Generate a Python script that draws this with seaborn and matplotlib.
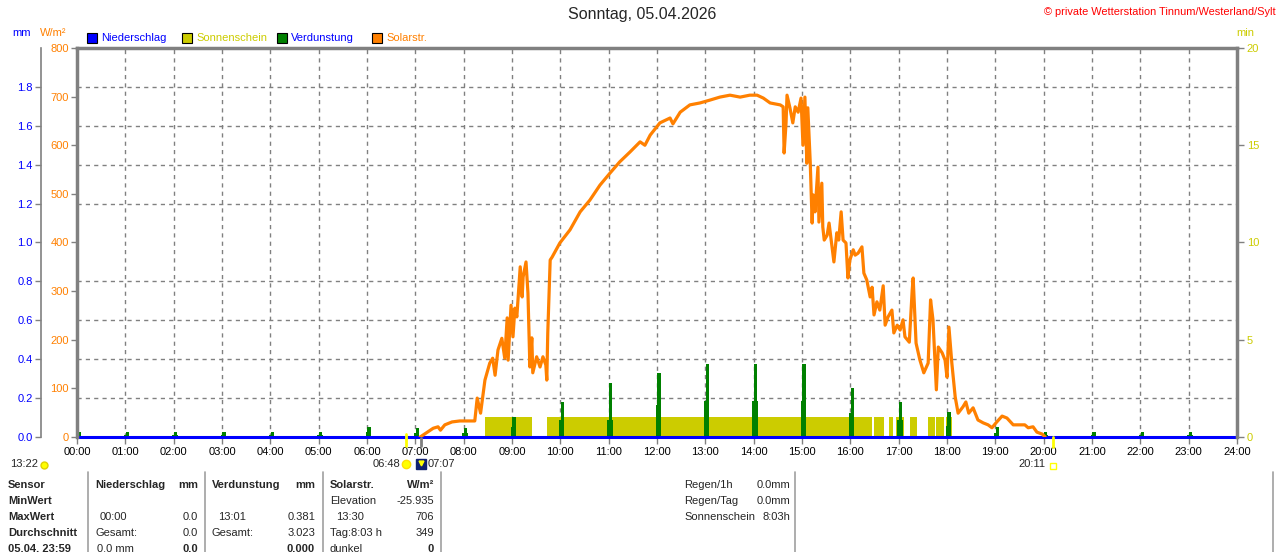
import matplotlib
matplotlib.use("Agg")
import matplotlib.pyplot as plt
import matplotlib.transforms as mtransforms
from matplotlib.patches import Rectangle
from matplotlib.lines import Line2D
from matplotlib.ticker import MultipleLocator
import seaborn as sns
import pandas as pd
import numpy as np

# --- data ------------------------------------------------------------------
title = "Sonntag, 05.04.2026"
station = "© private Wetterstation Tinnum/Westerland/Sylt"

hour_labels = [f"{h:02d}:00" for h in range(25)]

# solar radiation (W/m²) vs. time of day (hours)
solar_hour = [7.10, 7.25, 7.37, 7.47, 7.52, 7.61, 7.76, 7.92, 8.13, 8.23,
              8.28, 8.35, 8.44, 8.54, 8.60, 8.65, 8.71, 8.79, 8.85, 8.90,
              8.92, 8.98, 9.02, 9.06, 9.10, 9.17, 9.21, 9.23, 9.29, 9.33,
              9.37, 9.41, 9.43, 9.51, 9.58, 9.64, 9.70, 9.72, 9.74, 9.79,
              9.83, 9.99, 10.20, 10.41, 10.61, 10.82, 11.03, 11.23, 11.44, 11.65,
              11.75, 11.86, 12.06, 12.27, 12.33, 12.48, 12.68, 12.89, 13.10, 13.30,
              13.51, 13.72, 13.92, 14.07, 14.20, 14.34, 14.55, 14.61, 14.63, 14.67,
              14.69, 14.75, 14.81, 14.86, 14.92, 14.98, 15.02, 15.06, 15.10, 15.12,
              15.17, 15.21, 15.23, 15.27, 15.33, 15.35, 15.41, 15.43, 15.46, 15.52,
              15.56, 15.62, 15.66, 15.72, 15.76, 15.81, 15.85, 15.91, 15.95, 15.99,
              16.06, 16.10, 16.16, 16.24, 16.28, 16.34, 16.41, 16.45, 16.49, 16.55,
              16.61, 16.68, 16.72, 16.78, 16.86, 16.90, 16.97, 17.03, 17.09, 17.13,
              17.22, 17.28, 17.30, 17.36, 17.44, 17.52, 17.61, 17.66, 17.71, 17.78,
              17.82, 17.90, 17.96, 18.00, 18.04, 18.10, 18.17, 18.23, 18.33, 18.39,
              18.45, 18.54, 18.64, 18.75, 18.85, 18.93, 19.03, 19.14, 19.24, 19.37,
              19.51, 19.61, 19.68, 19.78, 19.86, 19.97, 20.03]
solar_wm2 = [0, 10, 18, 21, 14, 25, 31, 33, 33, 33,
             80, 49, 117, 152, 162, 127, 179, 203, 162, 245,
             158, 271, 206, 265, 247, 350, 288, 329, 360, 296,
             144, 204, 132, 165, 144, 165, 148, 117, 214, 364,
             370, 399, 426, 463, 487, 518, 543, 566, 586, 607,
             600, 621, 646, 656, 644, 668, 683, 687, 693, 699,
             703, 699, 703, 703, 697, 687, 683, 679, 584, 646,
             703, 677, 646, 679, 668, 697, 600, 699, 563, 677,
             566, 440, 498, 463, 555, 442, 522, 432, 405, 415,
             440, 391, 360, 420, 405, 463, 405, 399, 327, 364,
             385, 374, 378, 391, 337, 323, 288, 308, 251, 278,
             261, 311, 230, 247, 261, 214, 230, 220, 241, 206,
             195, 302, 327, 193, 158, 132, 152, 282, 241, 97,
             185, 173, 158, 123, 226, 152, 82, 49, 62, 72,
             49, 60, 35, 29, 25, 19, 31, 43, 39, 25,
             25, 25, 19, 21, 10, 6, 0]

# sunshine (min), periods with sun
sun_start = [8.44, 9.72, 16.49, 16.79, 16.95, 17.23, 17.61, 17.77, 17.98]
sun_end = [9.41, 16.45, 16.70, 16.89, 17.10, 17.37, 17.75, 17.94, 18.10]
sun_min = [1.05, 1.05, 1.05, 1.05, 1.05, 1.05, 1.05, 1.05, 1.05]

# evaporation (mm), hourly spikes: peak and lower base part
evap_hour = list(range(24))
evap_peak = [0.024, 0.024, 0.024, 0.024, 0.024, 0.024, 0.050, 0.048, 0.048, 0.101,
             0.181, 0.276, 0.327, 0.375, 0.375, 0.375, 0.253, 0.178, 0.127, 0.050,
             0.024, 0.024, 0.024, 0.024]
evap_base = [0.010, 0.010, 0.010, 0.010, 0.010, 0.010, 0.025, 0.020, 0.020, 0.050,
             0.087, 0.087, 0.165, 0.185, 0.185, 0.185, 0.125, 0.087, 0.057, 0.022,
             0.010, 0.010, 0.010, 0.010]

# precipitation (mm)
rain_hour = [0, 6, 12, 18, 24]
rain_mm = [0.0, 0.0, 0.0, 0.0, 0.0]

sunrise_h, light_h, sunset_h = 6.80, 7.117, 20.183

# --- styling ---------------------------------------------------------------
ORANGE = "#FF8000"
YELLOW = "#CCCC00"
GREEN = "#008000"
BLUE = "#0000FF"
GRAY = "#808080"

sns.set_style("white")
plt.rcParams['font.family'] = ['Liberation Sans', 'DejaVu Sans']
plt.rcParams['font.size'] = 8

W, H = 1280, 552


def fx(px):
    return px / W


def fy(py):
    return 1 - py / H


fig = plt.figure(figsize=(12.8, 5.52), dpi=100)
fig.patch.set_facecolor("white")
rect = [fx(77), fy(437), 1160 / W, 389 / H]

ax_sun = fig.add_axes(rect, label="sun")
ax_evap = fig.add_axes(rect, label="evap", sharex=ax_sun)
ax = fig.add_axes(rect, label="solar", sharex=ax_sun)
for a in (ax_evap, ax):
    a.patch.set_visible(False)

grid_kw = dict(color=GRAY, linestyle=(0, (3, 3)), linewidth=1)

# sunshine axis (right, min)
ax_sun.bar(sun_start, sun_min, width=np.array(sun_end) - np.array(sun_start),
           align="edge", color=YELLOW, linewidth=0)
ax_sun.set_xlim(0, 24)
ax_sun.set_ylim(0, 20)
ax_sun.set_xticks(range(25))
ax_sun.set_xticklabels(hour_labels)
ax_sun.yaxis.tick_right()
ax_sun.set_yticks([0, 5, 10, 15, 20])
ax_sun.yaxis.set_minor_locator(MultipleLocator(2))
ax_sun.grid(False)
ax_sun.grid(which="major", axis="x", **grid_kw)
ax_sun.grid(which="minor", axis="y", **grid_kw)
ax_sun.set_axisbelow(True)
ax_sun.tick_params(axis="x", colors=GRAY, labelcolor="black", length=5, width=1,
                   pad=2, labelsize=8, direction="out", bottom=True)
ax_sun.tick_params(axis="y", which="major", colors=GRAY, labelcolor=YELLOW, length=5,
                   width=1, pad=2, labelsize=8, direction="out", right=True)
ax_sun.tick_params(axis="y", which="minor", length=0)
for s in ax_sun.spines.values():
    s.set_visible(False)

# evaporation / precipitation axis (outer left, mm)
ax_evap.bar(np.array(evap_hour) + 0.03, evap_base, width=0.11, color=GREEN, linewidth=0)
ax_evap.bar(np.array(evap_hour) + 0.04, evap_peak, width=0.07, color=GREEN, linewidth=0)
sns.lineplot(x=rain_hour, y=rain_mm, ax=ax_evap, color=BLUE, linewidth=2.2,
             estimator=None, legend=False)
for ln in ax_evap.get_lines():
    ln.set_clip_on(False)
ax_evap.set_ylim(0, 2.0)
ax_evap.set_yticks(np.arange(0, 1.81, 0.2))
ax_evap.set_yticklabels([f"{v:.1f}" for v in np.arange(0, 1.81, 0.2)])
ax_evap.yaxis.tick_left()
for name, s in ax_evap.spines.items():
    s.set_visible(name == "left")
ax_evap.spines["left"].set_position(("outward", 26))
ax_evap.spines["left"].set_color(GRAY)
ax_evap.spines["left"].set_linewidth(1.2)
ax_evap.tick_params(axis="y", colors=GRAY, labelcolor=BLUE, length=4, width=1,
                    pad=2, labelsize=8, direction="out", left=True)
ax_evap.tick_params(axis="x", bottom=False, labelbottom=False)
ax_evap.set_xlabel("")
ax_evap.set_ylabel("")

# solar axis (left, W/m²)
solar_df = pd.DataFrame({"hour": solar_hour, "wm2": solar_wm2})
sns.lineplot(data=solar_df, x="hour", y="wm2", ax=ax, color=ORANGE, linewidth=2.3,
             estimator=None, sort=False, legend=False)
ax.set_ylim(0, 800)
ax.set_yticks(range(0, 801, 100))
ax.yaxis.tick_left()
ax.tick_params(axis="y", colors=GRAY, labelcolor=ORANGE, length=4, width=1,
               pad=2, labelsize=8, direction="out", left=True)
ax.tick_params(axis="x", bottom=False, labelbottom=False)
ax.set_xlabel("")
ax.set_ylabel("")
for name in ("left", "top", "right"):
    ax.spines[name].set_visible(True)
    ax.spines[name].set_color(GRAY)
    ax.spines[name].set_linewidth(2.5)
ax.spines["bottom"].set_visible(False)

# --- figure texts ----------------------------------------------------------
fig.text(fx(642), fy(15), title, ha="center", va="center", fontsize=11.5)
fig.text(fx(1276), fy(12), station, ha="right", va="center", fontsize=7.9,
         color="#FF0000")
fig.text(fx(22), fy(33), "mm", ha="center", va="center", color=BLUE)
fig.text(fx(53), fy(33), "W/m²", ha="center", va="center", color=ORANGE)
fig.text(fx(1245), fy(33), "min", ha="center", va="center", color=YELLOW)

legend_items = [("Niederschlag", BLUE, BLUE), ("Sonnenschein", YELLOW, YELLOW),
                ("Verdunstung", GREEN, BLUE), ("Solarstr.", ORANGE, ORANGE)]
for i, (name, fc, tc) in enumerate(legend_items):
    x0 = 87 + 95 * i
    fig.add_artist(Rectangle((fx(x0), fy(43)), 10 / W, 10 / H,
                             transform=fig.transFigure, facecolor=fc,
                             edgecolor="black", linewidth=0.8))
    fig.text(fx(x0 + 14), fy(38), name, ha="left", va="center", color=tc)

# sunrise / daylight / sunset markers below the axis
btrans = mtransforms.blended_transform_factory(ax_sun.transData, fig.transFigure)
fig.add_artist(Line2D([sunrise_h, sunrise_h], [fy(434), fy(446)], transform=btrans,
                      color="#FFFF00", linewidth=2))
fig.add_artist(Line2D([light_h, light_h], [fy(438), fy(446)], transform=btrans,
                      color=GRAY, linewidth=2))
fig.add_artist(Line2D([sunset_h, sunset_h], [fy(437), fy(447)], transform=btrans,
                      color="#FFFF00", linewidth=2))
fig.add_artist(Line2D([sunrise_h], [fy(464)], transform=btrans, marker="o",
                      markersize=6, color="#FFFF00", markeredgecolor="#FFE000"))
fig.add_artist(Line2D([light_h], [fy(464)], transform=btrans, marker="s",
                      markersize=7, color="#102070", markeredgecolor="#102070"))
fig.add_artist(Line2D([light_h], [fy(463)], transform=btrans, marker="v",
                      markersize=3.5, color="#FFFF00", markeredgecolor="#FFFF00"))
fig.add_artist(Line2D([sunset_h], [fy(466)], transform=btrans, marker="s",
                      markersize=5, markerfacecolor="none",
                      markeredgecolor="#FFFF00", markeredgewidth=1))
fig.text(fx(400), fy(464), "06:48", ha="right", va="center")
fig.text(fx(428), fy(464), "07:07", ha="left", va="center")
fig.text(fx(1045), fy(464), "20:11", ha="right", va="center")
fig.text(fx(10), fy(464), "13:22", ha="left", va="center")
fig.add_artist(Line2D([fx(44)], [fy(465)], transform=fig.transFigure, marker="o",
                      markersize=5, color="#FFFF00", markeredgecolor="#E0D000"))

# --- bottom table ----------------------------------------------------------
row_y = [485, 501, 517, 533, 549]
for xs in (88, 205, 323, 441, 795, 1273):
    fig.add_artist(Line2D([fx(xs), fx(xs)], [fy(472), 0], transform=fig.transFigure,
                          color="#A0A0A0", linewidth=1.2))

col1 = ["Sensor", "MinWert", "MaxWert", "Durchschnitt", "05.04. 23:59"]
for y, t in zip(row_y, col1):
    fig.text(fx(8), fy(y), t, ha="left", va="center", fontweight="bold")

cells = [
    # (x, row, text, ha, bold)
    (95, 0, "Niederschlag", "left", True), (198, 0, "mm", "right", True),
    (100, 2, "00:00", "left", False), (198, 2, "0.0", "right", False),
    (95, 3, "Gesamt:", "left", False), (198, 3, "0.0", "right", False),
    (97, 4, "0.0 mm", "left", False), (198, 4, "0.0", "right", True),
    (212, 0, "Verdunstung", "left", True), (315, 0, "mm", "right", True),
    (218, 2, "13:01", "left", False), (315, 2, "0.381", "right", False),
    (212, 3, "Gesamt:", "left", False), (315, 3, "3.023", "right", False),
    (315, 4, "0.000", "right", True),
    (330, 0, "Solarstr.", "left", True), (434, 0, "W/m²", "right", True),
    (330, 1, "Elevation", "left", False), (434, 1, "-25.935", "right", False),
    (336, 2, "13:30", "left", False), (434, 2, "706", "right", False),
    (330, 3, "Tag:8:03 h", "left", False), (434, 3, "349", "right", False),
    (330, 4, "dunkel", "left", False), (434, 4, "0", "right", True),
    (684, 0, "Regen/1h", "left", False), (790, 0, "0.0mm", "right", False),
    (684, 1, "Regen/Tag", "left", False), (790, 1, "0.0mm", "right", False),
    (684, 2, "Sonnenschein", "left", False), (790, 2, "8:03h", "right", False),
]
for x, r, t, ha, bold in cells:
    fig.text(fx(x), fy(row_y[r]), t, ha=ha, va="center",
             fontweight="bold" if bold else "normal")

fig.savefig("out.png", dpi=100, facecolor="white")
